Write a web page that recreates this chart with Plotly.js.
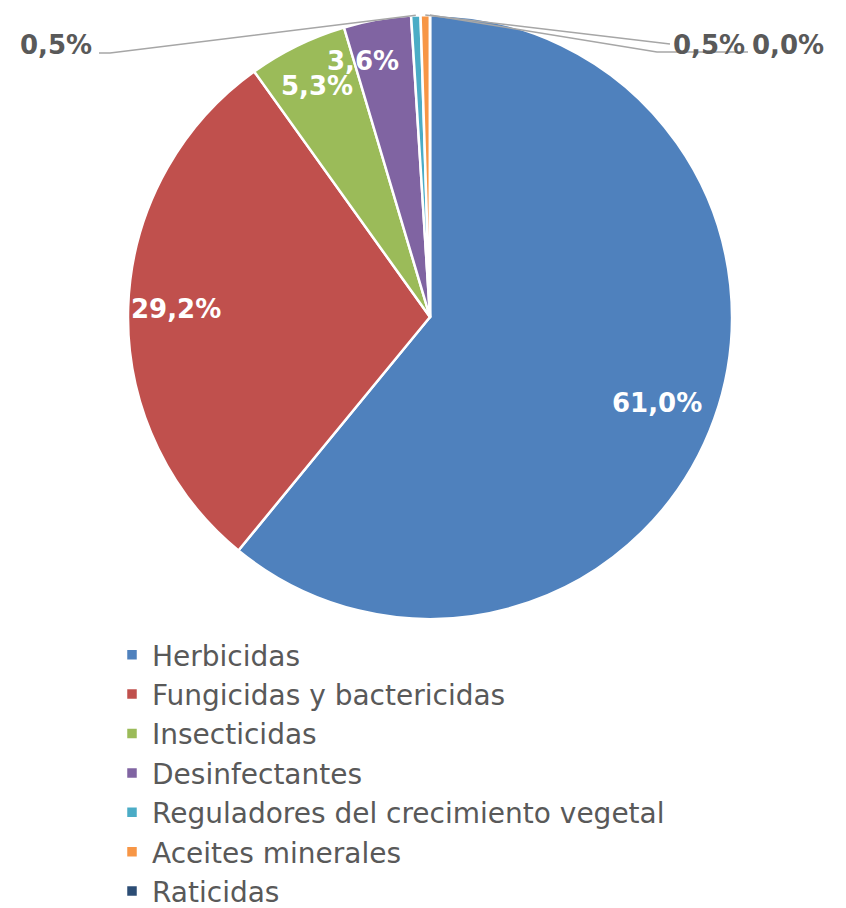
<!DOCTYPE html>
<html>
<head>
<meta charset="utf-8">
<script src="https://cdn.plot.ly/plotly-3.0.1.min.js"></script>
<style>html,body{margin:0;padding:0;background:#fff;}#chart{width:846px;height:908px;}</style>
</head>
<body>
<div id="chart"></div>
<script>
const categories = ["Herbicidas","Fungicidas y bactericidas","Insecticidas","Desinfectantes","Reguladores del crecimiento vegetal","Aceites minerales","Raticidas"];
const shares = [61.0, 29.2, 5.3, 3.6, 0.5, 0.5, 0.0];
const colors = ["#4F81BD","#C0504D","#9BBB59","#8064A2","#4BACC6","#F79646","#2C4D75"];
const labelText = shares.map(v => v.toFixed(1).replace('.', ',') + '%');

// layout constants (pixels)
const W = 846, H = 908;
const PIE_L = 128, PIE_R = 732, PIE_T = 15, PIE_B = 619;
const FONT = '"DejaVu Sans", Verdana, sans-serif';

// inside label placement per slice: radial factor and pixel nudge
const insidePlacement = {
  0: {f: 0.80, nudge: [0, 5]},
  1: {f: 0.84, nudge: [0, 0]},
  2: {f: 0.85, nudge: [0, 0]},
  3: {f: 0.86, nudge: [-22, 0]}
};
// outside labels (small slices) with leader lines: elbow, end, text center in pixels
const outsidePlacement = {
  4: {elbow: [110, 53], end: [99, 53], text: [56, 45]},
  5: {elbow: [670, 44], end: [670, 44], text: [709, 45]},
  6: {elbow: [657, 52], end: [748, 52], text: [788, 45]}
};

const cx = (PIE_L + PIE_R) / 2, cy = (PIE_T + PIE_B) / 2, R = (PIE_R - PIE_L) / 2;
const total = shares.reduce((a, b) => a + b, 0);
const px = x => x / W, py = y => 1 - y / H;

const annotations = [];
const shapes = [];
let cum = 0;
shares.forEach((v, i) => {
  const mid = (cum + v / 2) / total * 2 * Math.PI;
  cum += v;
  if (insidePlacement[i] !== undefined) {
    const p = insidePlacement[i];
    const x = cx + p.f * R * Math.sin(mid) + p.nudge[0], y = cy - p.f * R * Math.cos(mid) + p.nudge[1];
    annotations.push({x: px(x), y: py(y), xref: 'paper', yref: 'paper', text: labelText[i],
      showarrow: false, xanchor: 'center', yanchor: 'middle',
      font: {family: FONT, size: 26, color: '#ffffff', weight: 'bold'}});
  } else {
    const p = outsidePlacement[i];
    const ex = cx + R * Math.sin(mid), ey = cy - R * Math.cos(mid);
    shapes.push({type: 'path', xref: 'paper', yref: 'paper',
      path: `M${px(ex)},${py(ey)} L${px(p.elbow[0])},${py(p.elbow[1])} L${px(p.end[0])},${py(p.end[1])}`,
      line: {color: '#A6A6A6', width: 1.5}});
    annotations.push({x: px(p.text[0]), y: py(p.text[1]), xref: 'paper', yref: 'paper', text: labelText[i],
      showarrow: false, xanchor: 'center', yanchor: 'middle',
      font: {family: FONT, size: 26, color: '#595959', weight: 'bold'}});
  }
});

const trace = {
  type: 'pie',
  labels: categories,
  values: shares,
  textinfo: 'none',
  hoverinfo: 'label+percent',
  sort: false,
  direction: 'clockwise',
  rotation: 0,
  marker: {colors: colors, line: {color: '#ffffff', width: 2.5}},
  domain: {x: [PIE_L / W, PIE_R / W], y: [1 - PIE_B / H, 1 - PIE_T / H]},
  automargin: false,
  showlegend: true
};
const layout = {
  width: W, height: H,
  margin: {l: 0, r: 0, t: 0, b: 0, autoexpand: false},
  paper_bgcolor: '#ffffff',
  showlegend: true,
  annotations: annotations,
  shapes: shapes,
  legend: {
    orientation: 'v', x: 112 / W, xanchor: 'left', y: 1 - 630 / H, yanchor: 'top',
    font: {family: FONT, size: 28, color: '#595959'},
    traceorder: 'normal', itemclick: false
  }
};
Plotly.newPlot('chart', [trace], layout, {displayModeBar: false, staticPlot: true});
</script>
</body>
</html>
